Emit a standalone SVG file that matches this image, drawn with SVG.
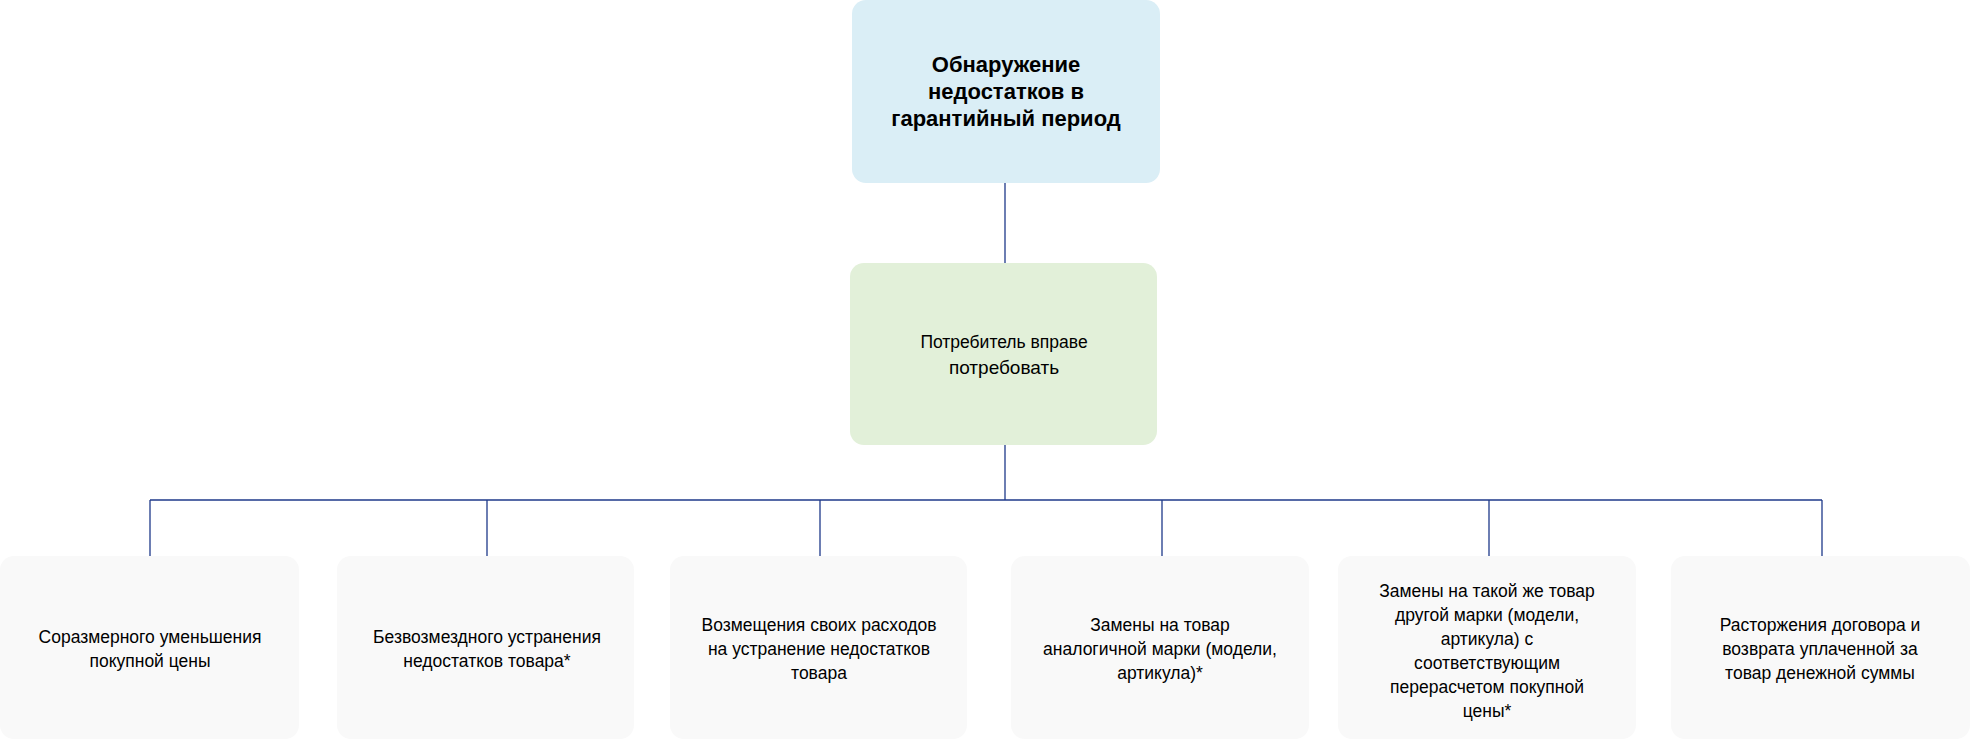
<svg xmlns="http://www.w3.org/2000/svg" width="1970" height="740" viewBox="0 0 1970 740">
<style>
.t{font-family:"Liberation Sans",Arial,sans-serif;font-size:17.5px;fill:#000;text-anchor:middle}
.b{font-weight:bold;font-size:22px}
.c{fill:none;stroke:#1F3A8A;stroke-width:1.3}
.n{fill:#F9F9F9}
</style>
<rect width="1970" height="740" fill="#fff"/>
<g id="connectors">
<path class="c" d="M1005 183V263M1005 445V500M150 500H1822M150 500V556M487 500V556M820 500V556M1162 500V556M1489 500V556M1822 500V556"/>
</g>
<g id="top"><rect x="852" y="0" width="308" height="183" rx="14" fill="#DAEEF6"/>
<text class="t b" x="1006" y="72">Обнаружение</text><text class="t b" x="1006" y="99">недостатков в</text><text class="t b" x="1006" y="126">гарантийный период</text></g>
<g id="mid"><rect x="850" y="263" width="307" height="182" rx="14" fill="#E2F0D9"/>
<text class="t" x="1004" y="348" font-size="19">Потребитель вправе</text><text class="t" x="1004" y="374" style="font-size:19px">потребовать</text></g>
<g id="n1"><rect class="n" x="0" y="556" width="299" height="183" rx="14"/>
<text class="t" x="150" y="643">Соразмерного уменьшения</text><text class="t" x="150" y="667">покупной цены</text></g>
<g id="n2"><rect class="n" x="337" y="556" width="297" height="183" rx="14"/>
<text class="t" x="487" y="643">Безвозмездного устранения</text><text class="t" x="487" y="667">недостатков товара*</text></g>
<g id="n3"><rect class="n" x="670" y="556" width="297" height="183" rx="14"/>
<text class="t" x="819" y="631">Возмещения своих расходов</text><text class="t" x="819" y="655">на устранение недостатков</text><text class="t" x="819" y="679">товара</text></g>
<g id="n4"><rect class="n" x="1011" y="556" width="298" height="183" rx="14"/>
<text class="t" x="1160" y="631">Замены на товар</text><text class="t" x="1160" y="655">аналогичной марки (модели,</text><text class="t" x="1160" y="679">артикула)*</text></g>
<g id="n5"><rect class="n" x="1338" y="556" width="298" height="183" rx="14"/>
<text class="t" x="1487" y="597">Замены на такой же товар</text><text class="t" x="1487" y="621">другой марки (модели,</text><text class="t" x="1487" y="645">артикула) с</text><text class="t" x="1487" y="669">соответствующим</text><text class="t" x="1487" y="693">перерасчетом покупной</text><text class="t" x="1487" y="717">цены*</text></g>
<g id="n6"><rect class="n" x="1671" y="556" width="299" height="183" rx="14"/>
<text class="t" x="1820" y="631">Расторжения договора и</text><text class="t" x="1820" y="655">возврата уплаченной за</text><text class="t" x="1820" y="679">товар денежной суммы</text></g>
</svg>
